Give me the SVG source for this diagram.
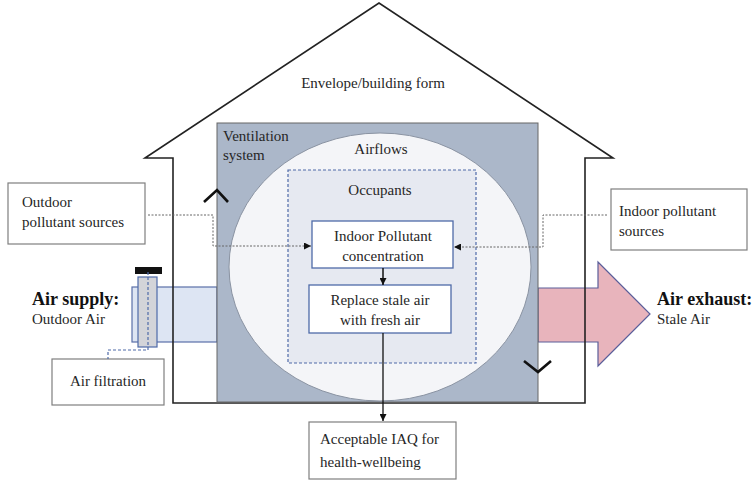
<svg xmlns="http://www.w3.org/2000/svg" width="755" height="480" viewBox="0 0 755 480" font-family="'Liberation Serif', 'Times New Roman', Times, 'DejaVu Serif', serif">
<defs>
<style>
text{font-family:'Liberation Serif','Times New Roman',Times,'DejaVu Serif',serif;font-size:15px;fill:#262626}
.b{font-weight:bold;font-size:18px;fill:#111}
.c{text-anchor:middle}
.box{fill:#fff;stroke:#7f7f7f;stroke-width:1.2}
.bbox{fill:#fff;stroke:#4f6aa8;stroke-width:1.3}
.dot{fill:none;stroke:#666;stroke-width:1;stroke-dasharray:2 1.5}
.chev{fill:none;stroke:#111;stroke-width:2.6}
</style>
<marker id="ah" viewBox="0 0 10 10" refX="10" refY="5" markerWidth="7" markerHeight="7" markerUnits="userSpaceOnUse" orient="auto"><path d="M0,0L10,5L0,10Z" fill="#111"/></marker>
</defs>
<g id="exhaust-arrow"><path d="M538,288H598V262L650,314L598,366V342H538Z" fill="#e8b4bc" stroke="#5a5e9a" stroke-width="1.2"/></g>
<g id="supply-pipe"><rect x="132" y="287" width="85" height="55" fill="#dde5f3" stroke="#5a6fa8" stroke-width="1.2"/></g>
<g id="house"><path d="M173,403V158H145L379,3L613,158H585V403Z" fill="none" stroke="#222" stroke-width="1.6"/>
<text class="c" x="373" y="88">Envelope/building form</text></g>
<g id="ventilation"><rect x="217" y="123" width="321" height="279" fill="#abb7c9" stroke="#666" stroke-width="1"/>
<text x="223" y="141">Ventilation</text><text x="223" y="160">system</text></g>
<g id="airflows"><ellipse cx="380" cy="267" rx="151" ry="134" fill="#f4f5f8" stroke="#8a93a2" stroke-width="1"/>
<text class="c" x="381" y="154">Airflows</text></g>
<g id="occupants"><rect x="288" y="170" width="188" height="193" fill="#e6e9f1" stroke="#4f6aa8" stroke-width="1.2" stroke-dasharray="3 2"/>
<text class="c" x="380" y="195">Occupants</text></g>
<g id="filter">
<rect x="138" y="277" width="19" height="70" fill="#d3d4d9" stroke="#4f6aa8" stroke-width="1.2"/>
<rect x="135" y="267" width="27" height="7" fill="#111"/>
</g>
<g id="chevrons"><path class="chev" d="M204,202L217,190L228,202"/><path class="chev" d="M524,361L538,372L551,361"/></g>
<g id="indoor-conc"><rect class="bbox" x="312" y="221" width="141" height="47"/>
<text class="c" x="383" y="241">Indoor Pollutant</text><text class="c" x="383" y="261">concentration</text></g>
<g id="replace"><rect class="bbox" x="309" y="285" width="142" height="48"/>
<text class="c" x="380" y="305">Replace stale air</text><text class="c" x="380" y="325">with fresh air</text></g>
<g id="outdoor-sources"><rect class="box" x="8" y="183" width="137" height="61"/>
<text x="22" y="207">Outdoor</text><text x="22" y="227">pollutant sources</text></g>
<g id="indoor-sources"><rect class="box" x="611" y="189" width="136" height="61"/>
<text x="619" y="216">Indoor pollutant</text><text x="619" y="236">sources</text></g>
<g id="air-filtration"><rect class="box" x="52" y="359" width="112" height="46"/>
<text class="c" x="108" y="386">Air filtration</text></g>
<g id="acceptable"><rect class="box" x="309" y="422" width="147" height="57"/>
<text x="320" y="444">Acceptable IAQ for</text><text x="320" y="467">health-wellbeing</text></g>
<g id="air-supply"><text class="b" x="32" y="305">Air supply:</text><text x="32" y="324">Outdoor Air</text></g>
<g id="air-exhaust"><text class="b" x="657" y="305">Air exhaust:</text><text x="657" y="324">Stale Air</text></g>
<g id="connectors">
<path class="dot" d="M148,215H213V246H311" marker-end="url(#ah)"/>
<path class="dot" d="M607,215H543V247H454" marker-end="url(#ah)"/>
<path d="M148,272V350H108V359" fill="none" stroke="#4f6aa8" stroke-width="1.2" stroke-dasharray="3 2"/>
<path d="M383,268V285" stroke="#111" stroke-width="1.5" marker-end="url(#ah)"/>
<path d="M383,333V421" stroke="#111" stroke-width="1.3" marker-end="url(#ah)"/>
</g>
</svg>
